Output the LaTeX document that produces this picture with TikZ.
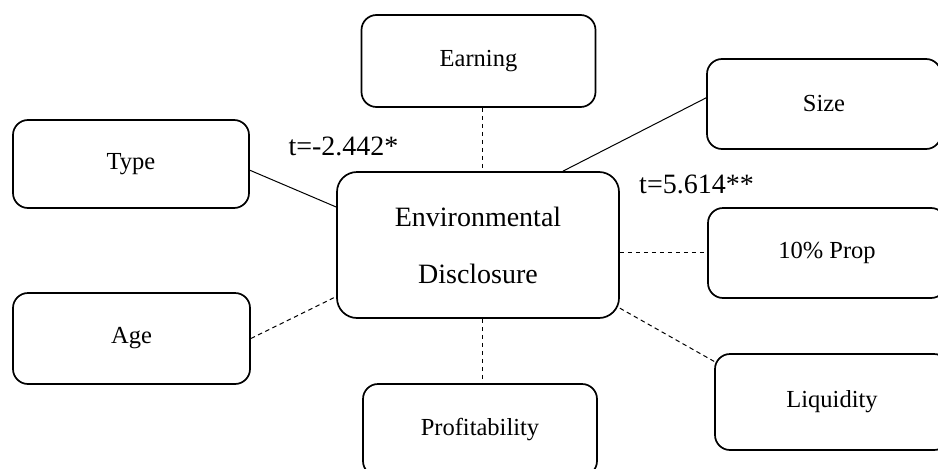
\documentclass[tikz,border=0pt]{standalone}
\usepackage{fontspec}
\setmainfont{Liberation Serif}
\usetikzlibrary{calc}

\begin{document}
\begin{tikzpicture}[x=1pt, y=-1pt,
    varbox/.style={draw, line width=1.7pt, rounded corners=15pt,
      minimum width=234pt, minimum height=91pt, inner sep=0pt,
      font=\fontsize{24.5}{29}\selectfont},
    mainbox/.style={draw, line width=1.7pt, rounded corners=20pt,
      minimum width=282pt, minimum height=146pt, inner sep=0pt, align=center,
      font=\fontsize{28}{57}\selectfont},
    tval/.style={anchor=base, inner sep=0pt, font=\fontsize{28}{33}\selectfont},
    link/.style={line width=1pt},
    nolink/.style={line width=1pt, dash pattern=on 4.5pt off 3.5pt}]
  \useasboundingbox (0,0) rectangle (938,469);
  % --- Centre ---
  \node[mainbox] (env) at (478,245) {Environmental\\Disclosure};
  % --- Variables ---
  \node[varbox, minimum height=92pt] (earn) at (478.5,61) {Earning};
  \node[varbox, minimum width=236pt, minimum height=88pt] (type) at (131,164) {Type};
  \node[varbox, minimum height=90pt] (size) at (824,104) {Size};
  \node[varbox, minimum width=238pt, minimum height=90pt] (prop) at (827,253) {10\% Prop};
  \node[varbox, minimum height=96pt] (liq) at (832,402) {Liquidity};
  \node[varbox, minimum width=237pt] (age) at (131.5,338.5) {Age};
  \node[varbox, minimum height=92pt] (prof) at (480,430) {Profitability};
  % --- t values ---
  \node[tval] (ttype) at (343.5,155) {t=-2.442*};
  \node[tval] (tsize) at (696.5,193) {t=5.614**};
  % --- Links (solid = significant) ---
  \draw[link] (type.-3.4) -- (env.165);
  \draw[link] (env.41.7) -- (size.177);
  \draw[nolink] ($(earn.south)+(3.5,0)$) -- ($(env.north)+(4,0)$);
  \draw[nolink] ($(env.south)+(4,0)$) -- ($(prof.north)+(2,0)$);
  \draw[nolink] (env.-3.7) -- (env.-3.7 -| prop.west);
  \draw[nolink] (env.-24) -- (liq.161.6);
  \draw[nolink] (age.east) -- (env.-160.4);
\end{tikzpicture}
\end{document}
